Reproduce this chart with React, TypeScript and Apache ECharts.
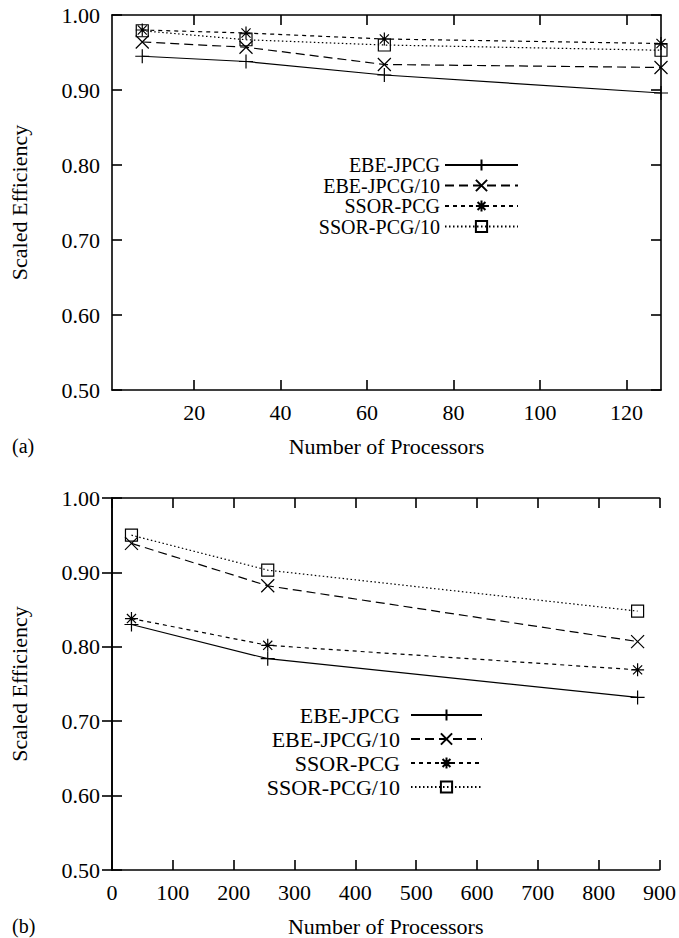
import React, { useEffect, useRef } from "react";
import * as echarts from "echarts";

// ---- data ----
const seriesNames = ["EBE-JPCG", "EBE-JPCG/10", "SSOR-PCG", "SSOR-PCG/10"];

const procsA = [8, 32, 64, 128];
const ebeA = [0.945, 0.938, 0.92, 0.896];
const ebe10A = [0.964, 0.957, 0.934, 0.93];
const ssorA = [0.98, 0.976, 0.968, 0.962];
const ssor10A = [0.979, 0.967, 0.96, 0.953];

const procsB = [32, 256, 864];
const ebeB = [0.83, 0.784, 0.732];
const ebe10B = [0.939, 0.882, 0.807];
const ssorB = [0.838, 0.802, 0.769];
const ssor10B = [0.95, 0.903, 0.848];

const xTicksA = [20, 40, 60, 80, 100, 120];
const xTitle = "Number of Processors";
const yTitle = "Scaled Efficiency";
const panelLabels = ["(a)", "(b)"];

// ---- styles ----
const FONT = "'Liberation Serif', 'Times New Roman', serif";
const FS = 22;
const PLUS = "path://M5,0 L5,10 M0,5 L10,5";
const CROSS = "path://M0,0 L10,10 M10,0 L0,10";
const STAR = "path://M5,0 L5,10 M0,5 L10,5 M1.5,1.5 L8.5,8.5 M8.5,1.5 L1.5,8.5";
const SQUARE = "path://M0,0 L10,0 L10,10 L0,10 Z";
const symbols = [PLUS, CROSS, STAR, SQUARE];
const dashes: any[] = ["solid", [9, 5], [4, 4], [1.5, 2.5]];
const symSizes = [14, 13, 13, 12];

function makeSeries(xs: number[], ys: number[][], axisIndex: number) {
  return ys.map((vals, i) => ({
    name: seriesNames[i],
    type: "line",
    xAxisIndex: axisIndex,
    yAxisIndex: axisIndex,
    data: xs.map((x, j) => [x, vals[j]]),
    symbol: symbols[i],
    symbolSize: symSizes[i],
    showSymbol: true,
    lineStyle: { color: "#000", width: 1.2, type: dashes[i] },
    itemStyle: { color: "rgba(0,0,0,0)", borderColor: "#000", borderWidth: 1.2 },
    emphasis: { disabled: true },
    z: 3,
  }));
}

const axisLine = { show: true, lineStyle: { color: "#000", width: 1.6 } };
const tickStyle = { show: true, inside: true, length: 10, lineStyle: { color: "#000", width: 1.6 } };
const labelStyle = { color: "#000", fontFamily: FONT, fontSize: FS };

function xAxes(grid: number, min: number, max: number, interval: number | null, custom: number[] | null, nameGap: number) {
  const base: any = { type: "value", gridIndex: grid, min, max, splitLine: { show: false } };
  if (interval) base.interval = interval;
  const bottom: any = {
    ...base,
    position: "bottom",
    axisLine,
    axisTick: custom ? { ...tickStyle, customValues: custom } : tickStyle,
    axisLabel: custom ? { ...labelStyle, margin: 11, customValues: custom } : { ...labelStyle, margin: 11 },
    name: xTitle,
    nameLocation: "middle",
    nameGap,
    nameTextStyle: { color: "#000", fontFamily: FONT, fontSize: FS },
  };
  const top: any = {
    ...base,
    position: "top",
    axisLine,
    axisTick: custom ? { ...tickStyle, customValues: custom } : tickStyle,
    axisLabel: { show: false },
  };
  return [bottom, top];
}

function yAxes(grid: number) {
  const base: any = { type: "value", gridIndex: grid, min: 0.5, max: 1.0, interval: 0.1, splitLine: { show: false } };
  return [
    {
      ...base,
      position: "left",
      axisLine,
      axisTick: tickStyle,
      axisLabel: { ...labelStyle, margin: 12, formatter: (v: number) => v.toFixed(2) },
      name: yTitle,
      nameLocation: "middle",
      nameRotate: 90,
      nameGap: 82,
      nameTextStyle: { color: "#000", fontFamily: FONT, fontSize: FS },
    },
    { ...base, position: "right", axisLine, axisTick: tickStyle, axisLabel: { show: false } },
  ];
}

export default function App() {
  const ref = useRef<HTMLDivElement>(null);
  useEffect(() => {
    if (!ref.current) return;
    const chart = echarts.init(ref.current, null, { renderer: "svg" });
    const [xa0, xa1] = xAxes(0, 1, 128, null, xTicksA, 45);
    const [xb0, xb1] = xAxes(1, 0, 900, 100, null, 45);
    const [ya0, ya1] = yAxes(0);
    const [yb0, yb1] = yAxes(1);
    chart.setOption({
      animation: false,
      backgroundColor: "#fff",
      textStyle: { fontFamily: FONT },
      grid: [
        { left: 111, right: 18, top: 15, height: 375 },
        { left: 111, right: 18, top: 498, height: 372 },
      ],
      xAxis: [xa0, xb0, xa1, xb1],
      yAxis: [ya0, yb0, ya1, yb1],
      legend: [
        {
          data: seriesNames,
          orient: "vertical",
          align: "right",
          right: 160,
          top: 155,
          padding: 0,
          itemWidth: 73,
          itemHeight: 14,
          itemGap: 0.5,
          selectedMode: false,
          textStyle: { color: "#000", fontFamily: FONT, fontSize: 20 },
        },
        {
          data: seriesNames,
          orient: "vertical",
          align: "right",
          right: 196,
          top: 704,
          padding: 0,
          itemWidth: 71,
          itemHeight: 14,
          itemGap: 2,
          selectedMode: false,
          textStyle: { color: "#000", fontFamily: FONT, fontSize: FS, padding: [0, 6, 0, 0] },
        },
      ],
      graphic: [
        { type: "text", left: 12, top: 436, style: { text: panelLabels[0], fill: "#000", font: `${FS - 2}px ${FONT}` } },
        { type: "text", left: 12, top: 916, style: { text: panelLabels[1], fill: "#000", font: `${FS - 2}px ${FONT}` } },
      ],
      series: [
        ...makeSeries(procsA, [ebeA, ebe10A, ssorA, ssor10A], 0),
        ...makeSeries(procsB, [ebeB, ebe10B, ssorB, ssor10B], 1),
      ],
    });
    return () => chart.dispose();
  }, []);
  return (
    <div
      ref={ref}
      style={{ position: "absolute", left: 0, top: 0, width: 679, height: 938, background: "#fff" }}
    />
  );
}
